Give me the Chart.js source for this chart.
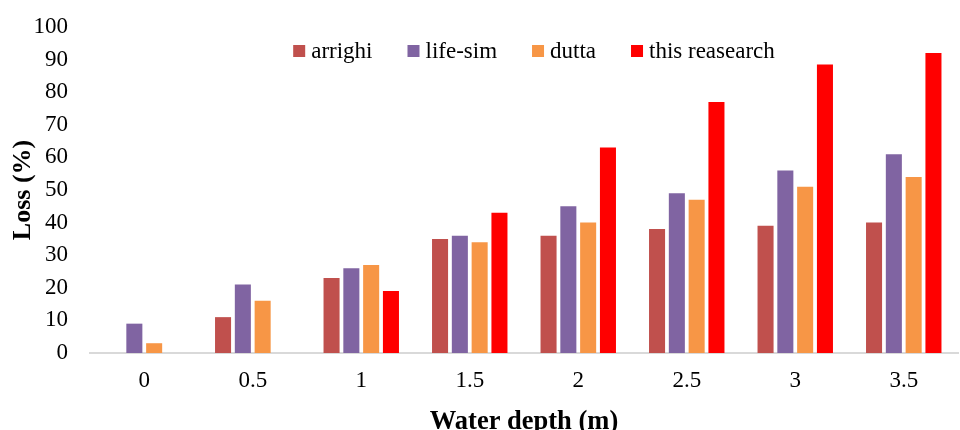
<!DOCTYPE html>
<html>
<head>
<meta charset="utf-8">
<script src="https://cdn.jsdelivr.net/npm/chart.js@4/dist/chart.umd.min.js"></script>
<style>
  html, body { margin: 0; padding: 0; background: #fff; }
  #wrap { width: 960px; height: 430px; }
</style>
</head>
<body>
<div id="wrap"><canvas id="c" width="960" height="430"></canvas></div>
<script>
// Water depth categories (m)
const depths = ['0', '0.5', '1', '1.5', '2', '2.5', '3', '3.5'];

// Loss (%) per model
const arrighi      = [0, 11, 23, 35, 36, 38, 39, 40];
const lifeSim      = [9, 21, 26, 36, 45, 49, 56, 61];
const dutta        = [3, 16, 27, 34, 40, 47, 51, 54];
const thisResearch = [0, 0, 19, 43, 63, 77, 88.5, 92];

const seriesNames = ['arrighi', 'life-sim', 'dutta', 'this reasearch'];
const seriesColors = ['#C0504D', '#8064A2', '#F79646', '#FF0000'];

const yTicks = { min: 0, max: 100, step: 10 };

const FONT = '"Liberation Serif", "Times New Roman", serif';

// Legend laid over the top of the plot area, built from the datasets
const innerLegend = {
  id: 'innerLegend',
  afterDraw(chart) {
    const { ctx, chartArea } = chart;
    const box = 12, gapText = 6, gapItem = 35;
    ctx.save();
    ctx.font = '23px ' + FONT;
    const items = chart.data.datasets.map(ds => ({
      label: ds.label, color: ds.backgroundColor,
      w: ctx.measureText(ds.label).width
    }));
    const total = items.reduce((s, it) => s + box + gapText + it.w, 0) + gapItem * (items.length - 1);
    let x = (chartArea.left + chartArea.right) / 2 + 10 - total / 2;
    const y = 51;
    ctx.textBaseline = 'middle';
    ctx.textAlign = 'left';
    items.forEach(it => {
      ctx.fillStyle = it.color;
      ctx.fillRect(x, y - box / 2, box, box);
      ctx.fillStyle = '#000';
      ctx.fillText(it.label, x + box + gapText, y + 1);
      x += box + gapText + it.w + gapItem;
    });
    ctx.restore();
  }
};

const seriesData = [arrighi, lifeSim, dutta, thisResearch];

new Chart(document.getElementById('c'), {
  type: 'bar',
  data: {
    labels: depths,
    datasets: seriesData.map((d, i) => ({
      label: seriesNames[i],
      data: d,
      backgroundColor: seriesColors[i],
      borderWidth: 0,
      barPercentage: 0.81,
      categoryPercentage: 0.73
    }))
  },
  options: {
    responsive: false,
    animation: false,
    layout: { padding: { top: 27, right: 2, left: 0, bottom: 0 } },
    plugins: {
      legend: { display: false },
      tooltip: { enabled: false }
    },
    scales: {
      x: {
        grid: { display: false, drawTicks: false },
        border: { display: true, color: '#D9D9D9', width: 2 },
        ticks: { color: '#000', font: { family: FONT, size: 23 }, padding: 14 },
        title: {
          display: true, text: 'Water depth (m)', color: '#000',
          font: { family: FONT, size: 26.5, weight: 'bold', lineHeight: 1 },
          padding: { top: 0, bottom: -5 }
        },
        afterFit(scale) { scale.height = 77; }
      },
      y: {
        min: yTicks.min, max: yTicks.max,
        grid: { display: false, drawTicks: false },
        border: { display: false },
        ticks: { stepSize: yTicks.step, color: '#000', font: { family: FONT, size: 23 }, padding: 22 },
        title: {
          display: true, text: 'Loss (%)', color: '#000',
          font: { family: FONT, size: 26, weight: 'bold', lineHeight: 1 },
          padding: { top: 10, bottom: 0 }
        },
        afterFit(scale) {
          scale.width = 90;
          scale.paddingTop = 0;
          scale.paddingBottom = 0;
        }
      }
    }
  },
  plugins: [innerLegend]
});
</script>
</body>
</html>
